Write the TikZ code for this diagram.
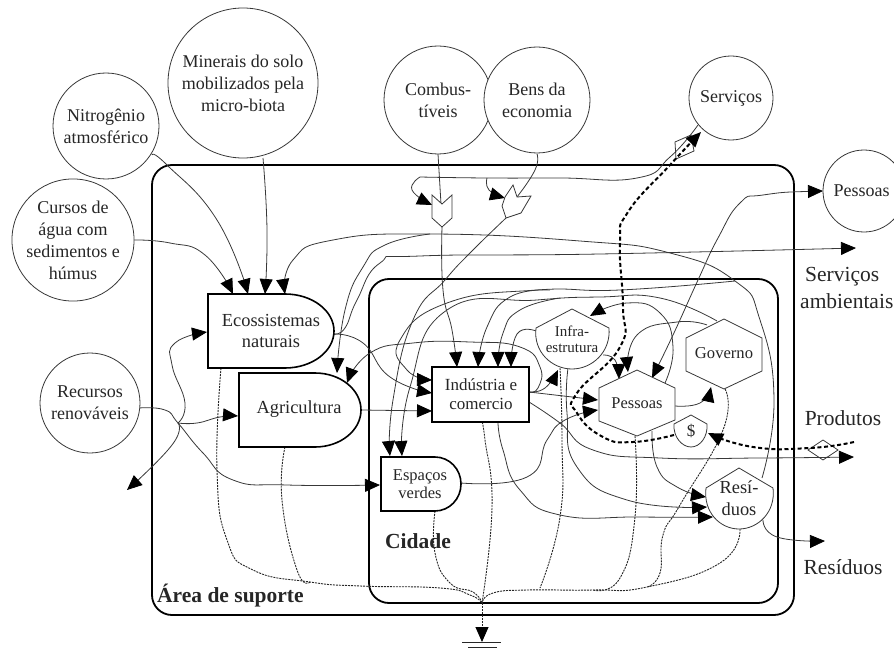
\documentclass[tikz,border=0pt]{standalone}
\usepackage{fontspec}
\setmainfont{Liberation Serif}
\usetikzlibrary{arrows.meta}
\newcommand\fz[1]{\fontsize{#1}{#1}\selectfont}
\newcommand\fl[2]{\draw[#1] plot[smooth,tension=.85] coordinates {#2};}
\tikzset{
  x=1pt,y=-1pt,
  tip/.tip={Triangle[length=15pt,width=13pt,color=black,fill=black]},
  flow/.style={line width=.8pt,draw=black!78},
  ar/.style={flow,-tip},
  arb/.style={flow,tip-tip},
  sink/.style={line width=.9pt,draw=black!85,dash pattern=on 2pt off 1pt},
  money/.style={line width=2pt,draw=black,dash pattern=on 4pt off 2.6pt},
  moneyar/.style={money,-tip},
  box/.style={line width=1.8pt,draw=black,rounded corners=20pt},
  src/.style={circle,draw=black!78,line width=.8pt,fill=white,inner sep=0pt,align=center,text=black!85,font=\fontsize{18}{22}\selectfont},
  tank/.style={line width=1.6pt,draw=black,fill=white},
  hexa/.style={line width=.8pt,draw=black!78,fill=white},
  lab/.style={align=center,text=black!85,inner sep=0pt},
  big/.style={lab,font=\fz{21.5}},
}
\begin{document}
\begin{tikzpicture}
\useasboundingbox (0,0) rectangle (894,650);
% frames
\draw[box] (152,165) rectangle (794,615);
\draw[box] (369,279) rectangle (778,603);
% named connection points
\coordinate (ecoW) at (207,332);
\coordinate (ecoE) at (334,334);
\coordinate (ecoS) at (221,368);
\coordinate (agrE) at (361,410);
\coordinate (agrS) at (285,447);
\coordinate (espW) at (380,485);
\coordinate (espE) at (461,483);
\coordinate (espS) at (435,511);
\coordinate (indE) at (529,392);
\coordinate (indE2) at (529,402);
\coordinate (indS) at (498,422);
\coordinate (indS2) at (482,422);
\coordinate (infS) at (560,368);
\coordinate (infS2) at (568,368);
\coordinate (infW) at (536,331);
\coordinate (infSE) at (603,355);
\coordinate (pesS) at (635,436);
\coordinate (pesS2) at (652,431);
\coordinate (pesNE) at (665,383);
\coordinate (pesE) at (675,406);
\coordinate (govS) at (725,389);
\coordinate (govN) at (707,325);
\coordinate (govN2) at (717,321);
\coordinate (resS) at (740,529);
\coordinate (resNE) at (762,478);
\coordinate (resSE) at (763,520);
\coordinate (merA) at (442,227);
\coordinate (merB) at (506,218);
\coordinate (hub) at (482,603);
\coordinate (gnd) at (482,642);
\coordinate (branch) at (178,423);
\coordinate (recyc) at (735,281);
% solid flows
\fl{ar}{(133,240) (170,243) (205,255) (233,294)}
\fl{ar}{(152,155) (167,165) (217,220) (248,294)}
\fl{ar}{(263,158) (267,230) (265,294)}
\fl{ar}{(resNE) (774,400) (760,320) (recyc) (670,253) (580,241) (430,234) (333,240) (293,260) (285,294)}
\fl{ar}{(430,234) (385,245) (363,267) (345,310) (337,373)}
\fl{ar}{(ecoE) (345,328) (357,300) (380,263) (420,256) (600,254) (856,248)}
\fl{ar}{(ecoE) (363,343) (390,377) (432,393)}
\fl{ar}{(agrE) (432,411)}
\fl{ar}{(indE) (538,388) (540,367) (520,347) (470,342) (413,343) (370,353) (347,383)}
\fl{ar}{(indE) (545,388) (558,370)}
\fl{ar}{(indE) (598,400)}
\fl{ar}{(espE) (527,477) (547,440) (565,420) (598,410)}
\fl{ar}{(indE2) (560,423) (593,450) (660,458) (760,458) (854,457)}
\fl{ar}{(indS) (503,450) (520,490) (560,515) (640,517) (713,517)}
\fl{ar}{(infS2) (567,413) (577,467) (627,500) (707,507)}
\fl{ar}{(pesS2) (657,467) (677,487) (706,497)}
\fl{ar}{(resSE) (777,537) (825,541)}
\fl{arb}{(823,191) (763,195) (740,203) (718,238) (698,280) (673,335) (652,378)}
\fl{ar}{(pesE) (700,403) (711,387)}
\fl{ar}{(govN) (677,322) (637,335) (628,372)}
\fl{ar}{(infSE) (615,360) (619,379)}
\fl{ar}{(pesNE) (673,347) (660,313) (627,303) (590,316)}
\fl{ar}{(infW) (517,334) (511,367)}
\fl{flow}{(698,125) (670,157) (637,178) (560,178) (487,178) (420,177)}
\fl{ar}{(420,177) (412,190) (432,205)}
\fl{ar}{(487,178) (489,190) (505,198)}
\fl{flow}{(537,154) (535,170) (517,197)}
\fl{flow}{(438,154) (441,204)}
\fl{ar}{(merA) (443,290) (452,330) (457,367)}
\fl{ar}{(merB) (470,253) (445,280) (413,320) (393,400) (390,456)}
\fl{ar}{(recyc) (620,290) (537,290) (447,303) (400,340) (407,370) (432,380)}
\fl{ar}{(550,290) (510,297) (487,327) (478,367)}
\fl{ar}{(govN2) (660,298) (600,297) (537,300) (447,310) (410,387) (402,456)}
\fl{ar}{(560,298) (520,310) (503,333) (498,367)}
% renewable resources
\fl{ar}{(139,408) (165,410) (178,423) (203,453) (233,480) (287,485) (380,485)}
\fl{ar}{(branch) (197,423) (220,417) (238,416)}
\fl{ar}{(branch) (185,403) (172,365) (175,343) (207,332)}
\fl{ar}{(branch) (172,445) (127,490)}
% to ground
\fl{sink}{(ecoS) (217,470) (227,540) (253,570) (310,582) (360,586) (440,588) (470,595) (hub)}
\fl{sink}{(agrS) (282,500) (297,570) (310,582)}
\fl{sink}{(espS) (435,553) (450,583) (473,592) (hub)}
\fl{sink}{(indS2) (485,440) (492,507) (hub)}
\fl{sink}{(infS) (562,440) (560,517) (540,588)}
\fl{sink}{(pesS) (635,517) (620,578) (593,590)}
\fl{sink}{(govS) (723,430) (680,505) (663,535) (660,573) (647,587)}
\fl{sink}{(resS) (720,563) (647,587) (593,590) (527,590) (493,593) (hub)}
\draw[sink,-tip] (hub) -- (gnd);
\draw[line width=.9pt,draw=black!85] (462,642) -- (501,642) (468,647.5) -- (497,647.5);
% money flows
\draw[line width=.8pt,draw=black!78] (675,142) -- (691,135) -- (694,151) -- (676,159) -- cycle;
\draw[line width=.8pt,draw=black!78] (808,450) -- (823,440) -- (838,450) -- (823,460) -- cycle;
\fl{moneyar}{(674,435) (633,442) (603,437) (577,413) (577,393) (620,347) (623,307) (620,243) (628,212) (670,165) (701,132)}
\fl{moneyar}{(854,442) (810,448) (753,447) (708,433)}
% source circles
\node[src,minimum size=150pt] (minerais) at (243,83) {Minerais do solo\\mobilizados pela\\micro-biota};
\node[src,minimum size=106pt] (nitro) at (106,126) {Nitrogênio\\atmosférico};
\node[src,minimum size=120pt] (cursos) at (73,240) {Cursos de\\água com\\sedimentos e\\húmus};
\node[src,minimum size=100pt] (recursos) at (90,403) {Recursos\\renováveis};
\node[src,minimum size=108pt] (comb) at (438,100) {Combus-\\tíveis};
\node[src,minimum size=106pt] (bens) at (537,100) {Bens da\\economia};
\node[src,minimum size=84pt] (serv) at (731,98) {Serviços};
\node[src,minimum size=82pt] (pesOut) at (864,191) {\kern-5pt Pessoas};
% storages
\draw[tank] (208,294) -- (285,294) arc[start angle=-90,end angle=90,x radius=49,y radius=37] -- (208,368) -- cycle;
\node[lab,font=\fz{18.4}] (eco) at (271,331) {Ecossistemas\\[2pt]naturais};
\draw[tank] (239,373) -- (315,373) arc[start angle=-90,end angle=90,x radius=46,y radius=37] -- (239,447) -- cycle;
\node[lab,font=\fz{18.4}] (agri) at (299,409) {Agricultura};
\draw[tank] (381,457) -- (435,457) arc[start angle=-90,end angle=90,x radius=26,y radius=27] -- (381,511) -- cycle;
\node[lab,font=\fz{16.5}] (esp) at (420,484) {Espaços\\[2pt]verdes};
\draw[tank] (432,367) rectangle (529,422);
\node[lab,font=\fz{17}] (ind) at (481,394) {Indústria e\\[2pt]comercio};
% consumers
\draw[hexa] (536,328) -- (572,309) -- (609,328) .. controls (611,352) and (592,369) .. (572,369) .. controls (552,369) and (533,352) .. (536,328) -- cycle;
\node[lab,font=\fz{15}] (infra) at (572,339) {Infra-\\[1pt]estrutura};
\draw[hexa] (637,370) -- (675,388) -- (675,420) -- (637,436) -- (599,421) -- (599,388) -- cycle;
\node[lab,font=\fz{16.4}] (pes) at (637,403) {Pessoas};
\draw[hexa] (724,319) -- (762,338) -- (762,371) -- (724,389) -- (686,371) -- (686,338) -- cycle;
\node[lab,font=\fz{16.6}] (gov) at (724,353) {Governo};
\draw[hexa] (674,424) -- (691,415) -- (707,424) .. controls (708,437) and (700,447) .. (691,447) .. controls (682,447) and (673,437) .. (674,424) -- cycle;
\node[lab,font=\fz{17}] (din) at (691,431) {\$};
\draw[hexa] (706,488) -- (739,468) -- (773,488) .. controls (776,512) and (758,529) .. (739,529) .. controls (720,529) and (703,512) .. (706,488) -- cycle;
\node[lab,font=\fz{18.4}] (res) at (739,498) {Resí-\\[3pt]duos};
% interaction units
\draw[hexa] (432,195) -- (442,204) -- (452,195) -- (452,218) -- (442,227) -- (432,218) -- cycle;
\draw[hexa] (513,185) -- (517,197) -- (531,196) -- (521,213) -- (506,218) -- (502,206) -- (505,197) -- cycle;
% labels
\node[big,align=left,anchor=west] (sa) at (800,288) {\hspace*{5pt}Serviços\\[6pt]ambientais};
\node[big] (prod) at (843,418) {Produtos};
\node[big] (resout) at (843,567) {Resíduos};
\node[lab,font=\fz{21.5}\bfseries,anchor=west] (area) at (157,596) {Área de suporte};
\node[lab,font=\fz{21.5}\bfseries,anchor=west] (cid) at (385,541) {Cidade};
\end{tikzpicture}
\end{document}
